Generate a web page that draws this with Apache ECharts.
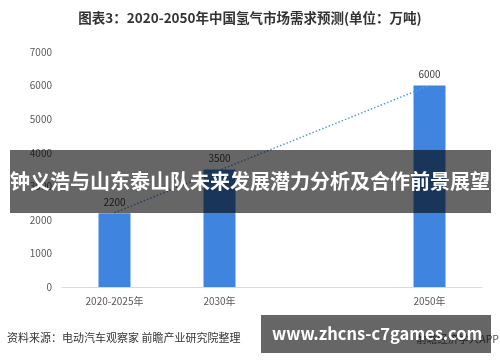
<!DOCTYPE html>
<html><head><meta charset="utf-8">
<script src="https://cdn.jsdelivr.net/npm/echarts@6/dist/echarts.min.js"></script>
<style>html,body{margin:0;padding:0;background:#fff}#c{width:500px;height:362px}</style>
</head><body><div id="c"></div>
<script>
const categories = ['2020-2025年', '2030年', '', '2050年'];
const demand = [2200, 3500, null, 6000];
const trend = [2210, 3480, 4740, 6000];
const yTicks = { min: 0, max: 7000, interval: 1000 };

const chart = echarts.init(document.getElementById('c'), null, { renderer: 'canvas' });
const FONT = '"Noto Sans CJK SC", "Noto Sans", sans-serif';
chart.setOption({
  backgroundColor: '#ffffff',
  animation: false,
  title: {
    text: '图表3：2020-2050年中国氢气市场需求预测(单位：万吨)',
    left: 'center', top: 6,
    textStyle: { fontFamily: FONT, fontSize: 13.5, fontWeight: 'bold', color: '#333333' }
  },
  grid: { left: 62, right: 18, top: 52, bottom: 75 },
  xAxis: {
    type: 'category', data: categories,
    axisLine: { lineStyle: { color: '#d9d9d9' } },
    axisTick: { show: false },
    axisLabel: { color: '#595959', fontSize: 10, fontFamily: FONT, margin: 9 }
  },
  yAxis: {
    type: 'value', min: yTicks.min, max: yTicks.max, interval: yTicks.interval,
    axisLine: { show: false }, axisTick: { show: false },
    splitLine: { show: false },
    axisLabel: { color: '#595959', fontSize: 10, fontFamily: FONT, margin: 10, formatter: v => String(v) }
  },
  series: [
    {
      type: 'bar', data: demand, barWidth: 32,
      itemStyle: { color: '#3f85e0' },
      label: { show: true, position: 'top', color: '#404040', fontSize: 10, fontFamily: FONT, distance: 6 }
    },
    {
      type: 'line', data: trend, symbol: 'none', z: 5,
      lineStyle: { color: '#5b9bd5', width: 1.5, type: [1.5, 2] }
    }
  ],
  graphic: [
    { type: 'text', left: 7, top: 332, z: 10,
      style: { text: '资料来源：电动汽车观察家 前瞻产业研究院整理', fill: '#333333', fontSize: 11, fontFamily: FONT } },
    { type: 'text', x: 499, y: 339, z: 10,
      style: { text: '前瞻经济学人APP', fill: '#555555', fontSize: 10.5, fontFamily: FONT, align: 'right', verticalAlign: 'middle' } },
    { type: 'rect', shape: { x: 10, y: 150, width: 481, height: 63 }, z: 100,
      style: { fill: 'rgba(0,0,0,0.6)' } },
    { type: 'text', x: 250, y: 181.5, z: 101,
      style: { text: '钟义浩与山东泰山队未来发展潜力分析及合作前景展望', fill: '#ffffff', fontSize: 20, fontWeight: 'bold', fontFamily: FONT, align: 'center', verticalAlign: 'middle' } },
    { type: 'rect', shape: { x: 261, y: 315, width: 230, height: 38 }, z: 100,
      style: { fill: 'rgba(0,0,0,0.6)' } },
    { type: 'text', x: 272, y: 334, z: 101,
      style: { text: 'www.zhcns-c7games.com', fill: '#ffffff', fontSize: 16.5, fontWeight: 'bold', fontFamily: FONT, align: 'left', verticalAlign: 'middle' } }
  ]
});
</script></body></html>
